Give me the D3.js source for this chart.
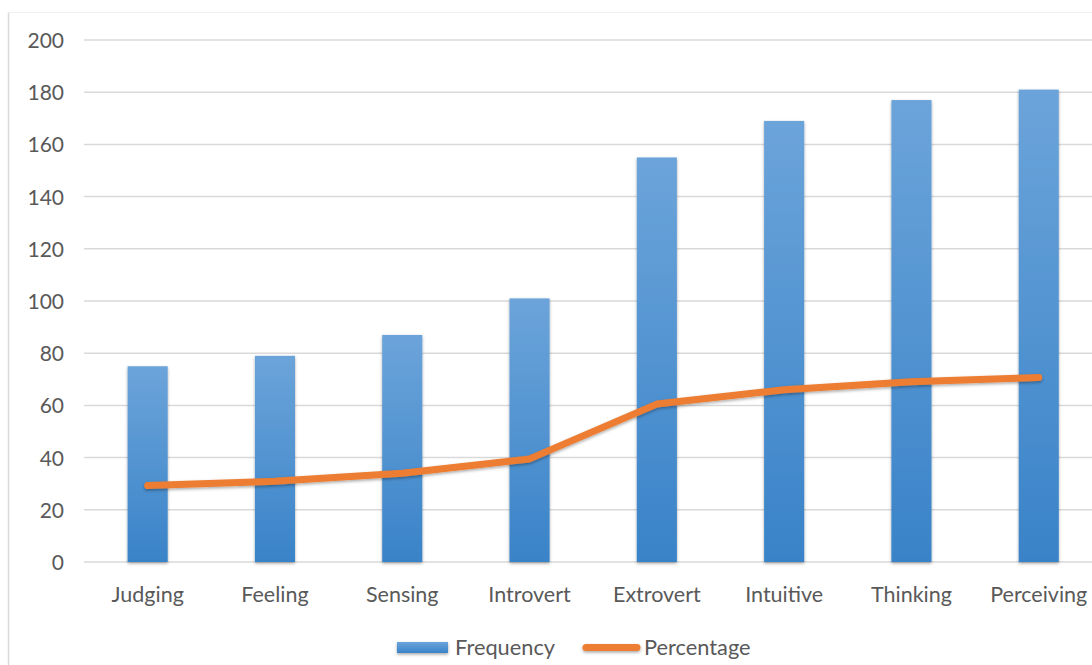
<!DOCTYPE html>
<html lang="en">
<head>
<meta charset="UTF-8">
<script src="https://d3js.org/d3.v7.min.js"></script>
<style>
    body { margin: 0; background: #fff; font-family: Lato, "Open Sans", sans-serif; }
    .tick text { fill: #595959; font-family: Lato, "Open Sans", sans-serif; }
</style>
</head>
<body>
<div id="chart"></div>
<script>
    // data
    const categories = ["Judging", "Feeling", "Sensing", "Introvert", "Extrovert", "Intuitive", "Thinking", "Perceiving"];
    const frequency = [75, 79, 87, 101, 155, 169, 177, 181];
    const percentage = [29.3, 30.9, 34, 39.5, 60.5, 66, 69.1, 70.7];
    const yTicks = [0, 20, 40, 60, 80, 100, 120, 140, 160, 180, 200];

    const W = 1092, H = 665;
    const margin = {top: 40, left: 84, bottom: 103};
    const plotW = 8 * 127.3;   // plot runs past the right edge (cropped chart)
    const plotH = H - margin.top - margin.bottom;

    const svg = d3.select("#chart").append("svg")
        .attr("width", W).attr("height", H);

    const defs = svg.append("defs");
    const grad = defs.append("linearGradient")
        .attr("id", "barGrad").attr("x1", 0).attr("y1", 0).attr("x2", 0).attr("y2", 1);
    grad.append("stop").attr("offset", "0%").attr("stop-color", "#6ca4da");
    grad.append("stop").attr("offset", "100%").attr("stop-color", "#3983c8");

    // shadow filter in user space so flat shapes (legend line) still render
    const shadow = defs.append("filter").attr("id", "shadow")
        .attr("filterUnits", "userSpaceOnUse")
        .attr("x", 0).attr("y", 0).attr("width", W).attr("height", H);
    shadow.append("feDropShadow").attr("dx", 0).attr("dy", 1.5).attr("stdDeviation", 1.5)
        .attr("flood-color", "#000").attr("flood-opacity", 0.35);

    // frame lines
    svg.append("line").attr("x1", 8.5).attr("x2", 8.5).attr("y1", 12).attr("y2", H)
        .attr("stroke", "#d9d9d9").attr("stroke-width", 1.5);
    svg.append("line").attr("x1", 8).attr("x2", W).attr("y1", 12.5).attr("y2", 12.5)
        .attr("stroke", "#f0f0f0");

    const g = svg.append("g").attr("transform", `translate(${margin.left},${margin.top})`);

    const x = d3.scaleBand().domain(categories).range([0, plotW]).paddingInner(0.685).paddingOuter(0.3425);
    const y = d3.scaleLinear().domain([0, 200]).range([plotH, 0]);

    // gridlines
    g.append("g").selectAll("line").data(yTicks).join("line")
        .attr("x1", 0).attr("x2", plotW)
        .attr("y1", d => y(d)).attr("y2", d => y(d))
        .attr("stroke", "#d9d9d9").attr("stroke-width", 1.5);

    // y axis
    const yAxis = g.append("g")
        .call(d3.axisLeft(y).tickValues(yTicks).tickSize(0).tickPadding(20));
    yAxis.select(".domain").remove();
    yAxis.selectAll("text").style("font-size", "21px").attr("dy", "0.36em");

    // x axis
    const xAxis = g.append("g").attr("transform", `translate(0,${plotH})`)
        .call(d3.axisBottom(x).tickSize(0).tickPadding(25));
    xAxis.select(".domain").remove();
    xAxis.selectAll("text").style("font-size", "21.5px");

    // bars
    g.append("g").selectAll("rect").data(categories).join("rect")
        .attr("x", d => x(d))
        .attr("width", x.bandwidth())
        .attr("y", (d, i) => y(frequency[i]))
        .attr("height", (d, i) => plotH - y(frequency[i]))
        .attr("fill", "url(#barGrad)")
        .attr("filter", "url(#shadow)");

    // percentage line
    const line = d3.line()
        .x((d, i) => x(categories[i]) + x.bandwidth() / 2)
        .y(d => y(d));
    g.append("path").datum(percentage)
        .attr("d", line)
        .attr("fill", "none")
        .attr("stroke", "#ed7d31")
        .attr("stroke-width", 7)
        .attr("stroke-linecap", "round")
        .attr("stroke-linejoin", "round")
        .attr("filter", "url(#shadow)");

    // legend
    const leg = svg.append("g");
    leg.append("rect").attr("x", 397).attr("y", 642).attr("width", 51).attr("height", 11)
        .attr("fill", "url(#barGrad)").attr("filter", "url(#shadow)");
    leg.append("text").attr("x", 455).attr("y", 655).text("Frequency")
        .attr("fill", "#595959").style("font-size", "21.8px");
    leg.append("line").attr("x1", 586).attr("x2", 637).attr("y1", 647.5).attr("y2", 647.5)
        .attr("stroke", "#ed7d31").attr("stroke-width", 7).attr("stroke-linecap", "round")
        .attr("filter", "url(#shadow)");
    leg.append("text").attr("x", 644).attr("y", 655).text("Percentage")
        .attr("fill", "#595959").style("font-size", "21.8px");
</script>
</body>
</html>
